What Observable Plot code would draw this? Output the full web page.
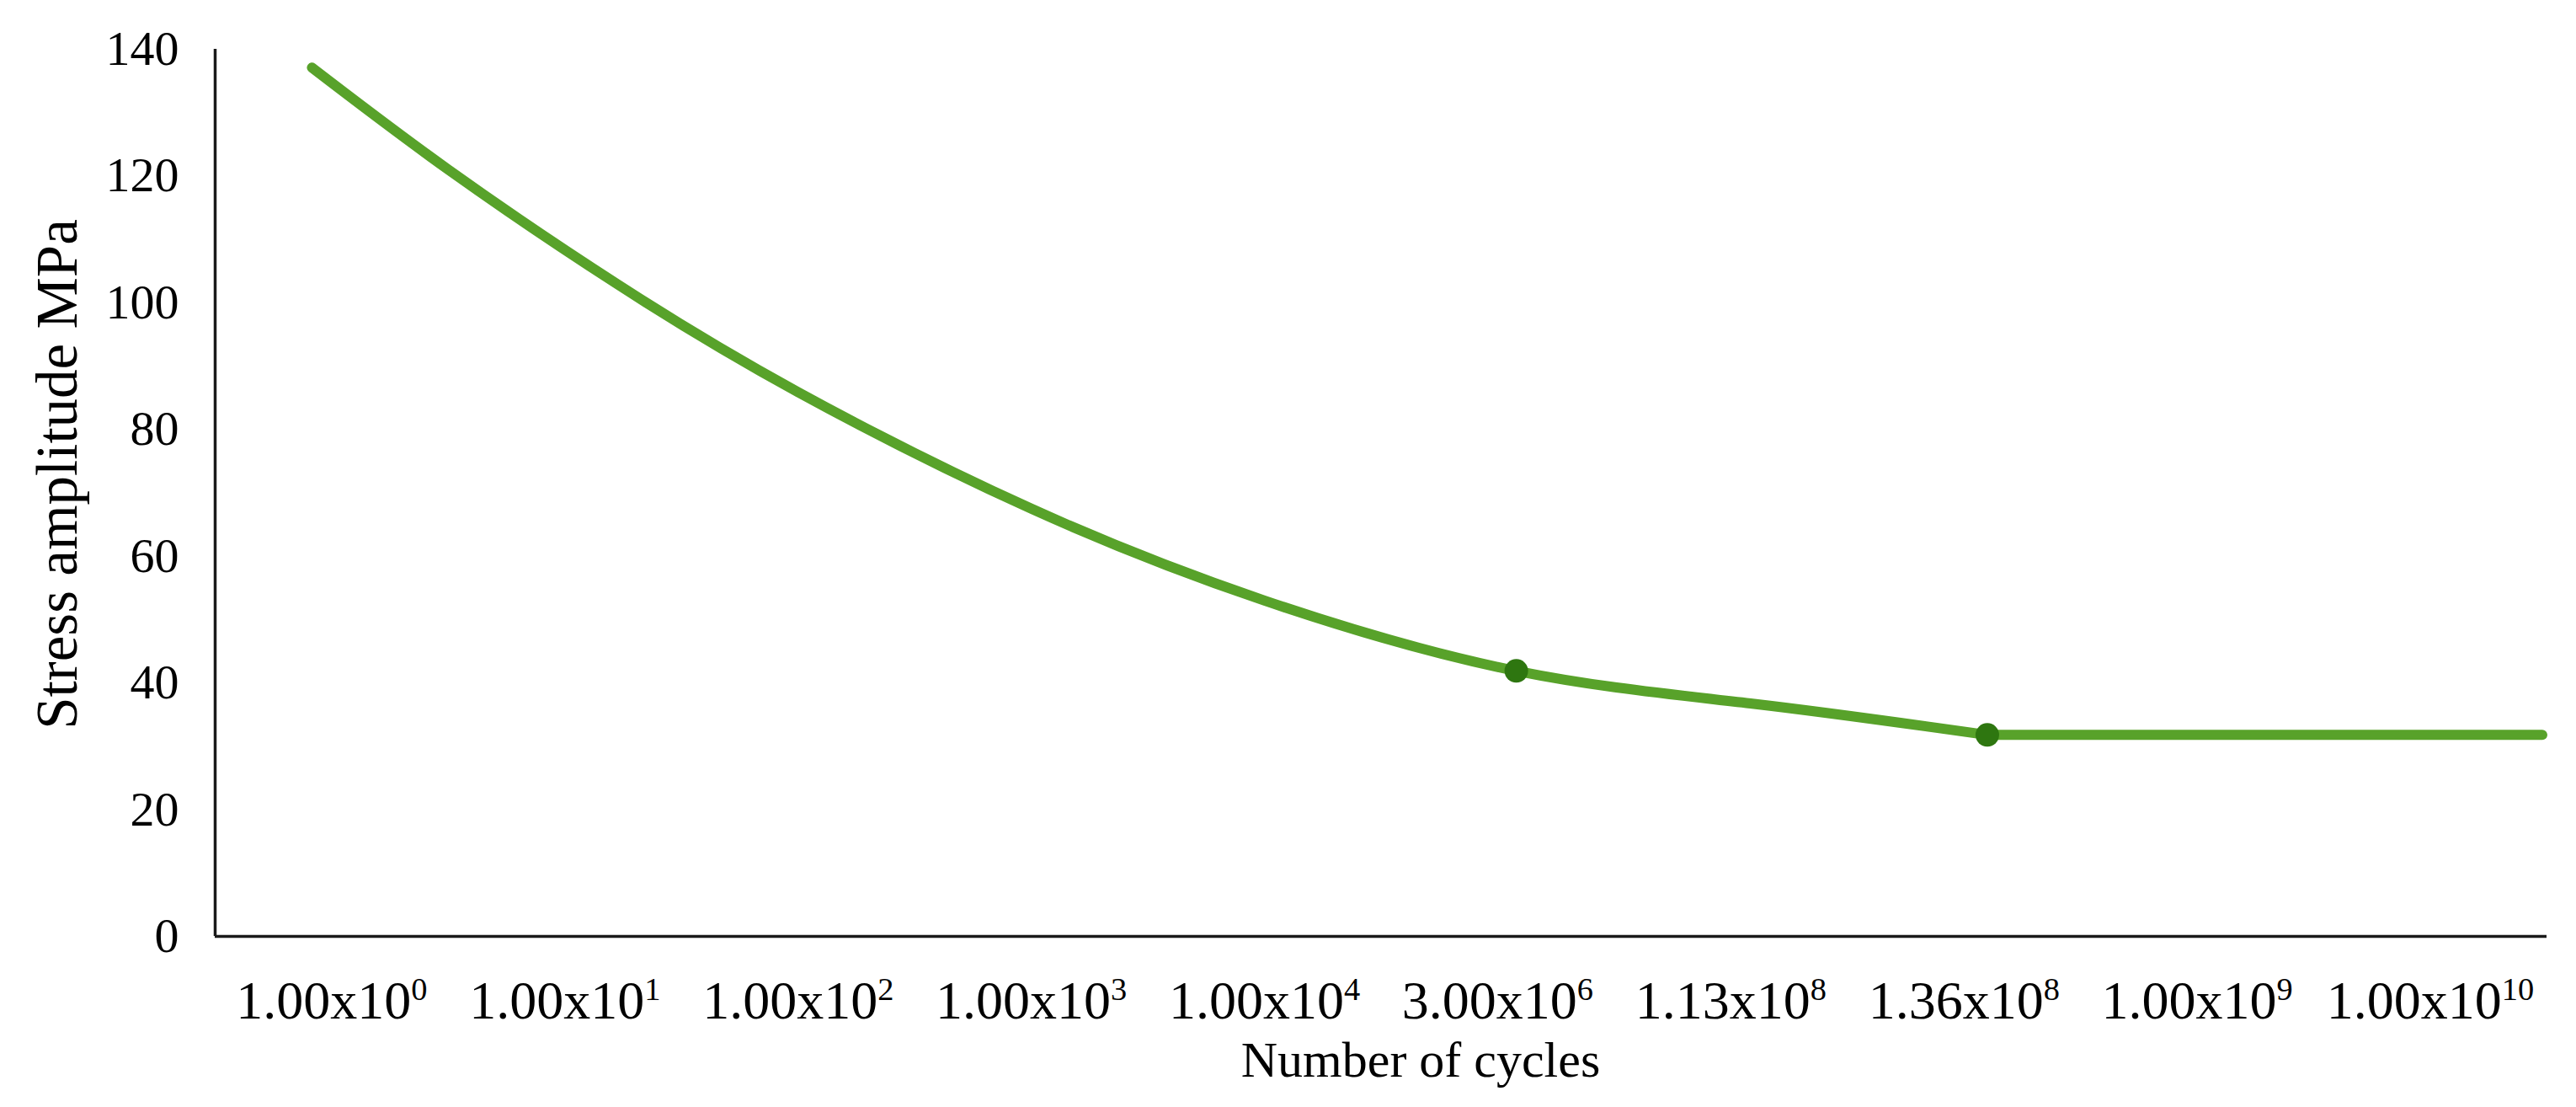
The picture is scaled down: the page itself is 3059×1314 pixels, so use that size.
<!DOCTYPE html>
<html>
<head>
<meta charset="utf-8">
<script src="https://cdn.jsdelivr.net/npm/d3@7"></script>
<script src="https://cdn.jsdelivr.net/npm/@observablehq/plot@0.6"></script>
<style>
  body { margin: 0; background: #fff; }
</style>
</head>
<body>
<div id="chart"></div>
<script>
// Category labels of the x axis (number of cycles): mantissa part and power-of-ten exponent
const cycleBase     = ["1.00x10", "1.00x10", "1.00x10", "1.00x10", "1.00x10",
                       "3.00x10", "1.13x10", "1.36x10", "1.00x10", "1.00x10"];
const cycleExponent = ["0", "1", "2", "3", "4", "6", "8", "8", "9", "10"];
// Curve: position along the category axis (in category units) and stress (MPa)
const curvePos    = [0.415, 1.0,   1.726, 2.5,  3.5,  4.5,  5.58, 6.6,  7.60, 8.8,  9.98];
const curveStress = [137.1, 121.0, 102.9, 85.9, 67.5, 53.0, 41.9, 36.7, 31.8, 31.8, 31.8];
const curveMarked = [false, false, false, false, false, false, true, false, true, false, false];
const yTicks = [0, 20, 40, 60, 80, 100, 120, 140];

const data = curvePos.map((x, i) => ({x, y: curveStress[i], marked: curveMarked[i]}));
const lastMarkedX = d3.max(data.filter(d => d.marked), d => d.x);
const falling = data.filter(d => d.x <= lastMarkedX);
const plateau = data.filter(d => d.x >= lastMarkedX);
const tickAt = cycleBase.map((d, i) => i + 0.5);
const xFont = 64;

const chart = Plot.plot({
  width: 3059,
  height: 1314,
  marginLeft: 255,
  marginRight: 35,
  marginTop: 58,
  marginBottom: 203,
  style: {fontFamily: "'Liberation Serif', 'Times New Roman', serif", color: "#000", background: "#fff"},
  x: {domain: [0, cycleBase.length], axis: null},
  y: {domain: [0, 140], axis: null},
  marks: [
    Plot.axisY({ticks: yTicks, tickSize: 0, tickPadding: 43, fontSize: 58, label: null}),
    Plot.axisX({ticks: tickAt, tickFormat: (d) => String(Math.round(d - 0.5)),
                tickSize: 0, tickPadding: 52, fontSize: xFont, label: null}),
    Plot.ruleX([0], {stroke: "#1a1a1a", strokeWidth: 3.5}),
    Plot.ruleY([0], {stroke: "#1a1a1a", strokeWidth: 3.5}),
    Plot.line(falling, {x: "x", y: "y", stroke: "#58a22a", strokeWidth: 12, curve: "natural", strokeLinecap: "round"}),
    Plot.line(plateau, {x: "x", y: "y", stroke: "#58a22a", strokeWidth: 12, curve: "linear", strokeLinecap: "round"}),
    Plot.dot(data.filter(d => d.marked), {x: "x", y: "y", r: 14, fill: "#2e7610", stroke: "none"}),
    Plot.text(["Stress amplitude MPa"], {frameAnchor: "left", textAnchor: "middle", dx: -187, dy: -22, rotate: -90, fontSize: 69, fill: "#000"}),
    Plot.text(["Number of cycles"], {frameAnchor: "bottom", textAnchor: "middle", dx: 47, dy: 166, fontSize: 60, fill: "#000"})
  ]
});

// turn the x tick labels into "mantissa x 10" + superscript exponent
d3.select(chart).selectAll('g[aria-label="x-axis tick label"] text').each(function() {
  const i = +this.textContent;
  const t = d3.select(this);
  t.text(cycleBase[i]);
  t.append("tspan")
    .attr("font-size", xFont * 0.6)
    .attr("dy", -xFont * 0.34)
    .text(cycleExponent[i]);
});

document.getElementById("chart").appendChild(chart);
</script>
</body>
</html>
